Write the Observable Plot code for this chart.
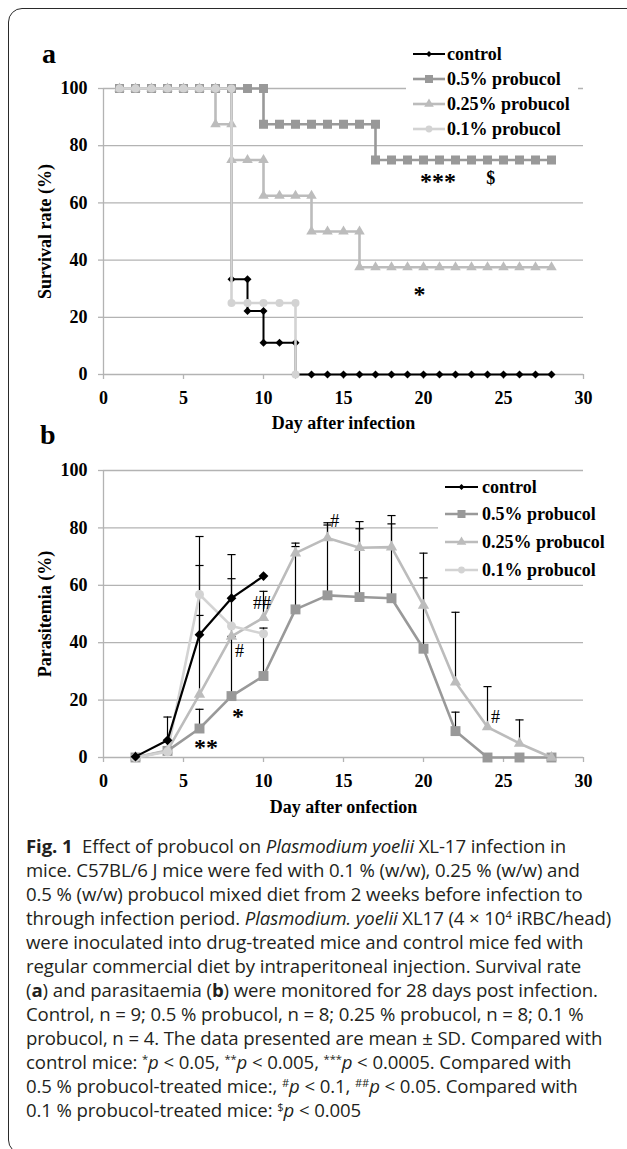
<!DOCTYPE html>
<html>
<head>
<meta charset="utf-8">
<script src="https://cdn.jsdelivr.net/npm/d3@7"></script>
<script src="https://cdn.jsdelivr.net/npm/@observablehq/plot@0.6"></script>
<style>
html, body { margin: 0; padding: 0; background: #fff; overflow: hidden; }
#fig { position: relative; width: 627px; height: 1149px; overflow: hidden; background: #fff; }
#frame { position: absolute; left: 8px; top: 8px; width: 640px; height: 1146px; border: 1.5px solid #2a2a2a; border-radius: 14px; box-sizing: border-box; }
.panel { position: absolute; left: 0; }
.plabel { position: absolute; font: bold 28px 'Liberation Serif', 'Times New Roman', serif; line-height: 28px; color: #000; }
.legend { position: absolute; background: #fff; font: bold 18px 'Liberation Serif', 'Times New Roman', serif; color: #000; }
.legend .row { position: absolute; left: 0; white-space: nowrap; }
.legend .row svg { position: absolute; left: 0; top: 0; }
.legend .row span { position: absolute; top: 0; line-height: 22px; }
.caption { position: absolute; left: 26px; top: 834px; font-family: 'Open Sans', 'Noto Sans', sans-serif; font-size: 18.6px; color: #231f20; letter-spacing: -0.1px; }
.caption div { white-space: nowrap; height: 24px; line-height: 24px; }
.caption sup { font-size: 0.6em; vertical-align: 0.55em; line-height: 0; }
</style>
</head>
<body>
<div id="fig">
  <div id="frame"></div>
  <div class="plabel" style="left:42px; top:40px;">a</div>
  <div class="plabel" style="left:40px; top:421px;">b</div>
  <div id="panelA" class="panel" style="top:0px;"></div>
  <div id="panelB" class="panel" style="top:440px;"></div>
  <div id="legendA" class="legend" style="left:406px; top:41px; width:172px; height:100px;"></div>
  <div id="legendB" class="legend" style="left:438px; top:474px; width:176px; height:108px;"></div>
  <div class="caption">
    <div><b>Fig. 1</b>&nbsp; Effect of probucol on <i>Plasmodium yoelii</i> XL-17 infection in</div>
    <div>mice. C57BL/6 J mice were fed with 0.1 % (w/w), 0.25 % (w/w) and</div>
    <div>0.5 % (w/w) probucol mixed diet from 2 weeks before infection to</div>
    <div>through infection period. <i>Plasmodium. yoelii</i> XL17 (4 × 10<sup>4</sup> iRBC/head)</div>
    <div>were inoculated into drug-treated mice and control mice fed with</div>
    <div>regular commercial diet by intraperitoneal injection. Survival rate</div>
    <div>(<b>a</b>) and parasitaemia (<b>b</b>) were monitored for 28 days post infection.</div>
    <div>Control, n = 9; 0.5 % probucol, n = 8; 0.25 % probucol, n = 8; 0.1 %</div>
    <div>probucol, n = 4. The data presented are mean ± SD. Compared with</div>
    <div>control mice: <sup>*</sup><i>p</i> &lt; 0.05, <sup>**</sup><i>p</i> &lt; 0.005, <sup>***</sup><i>p</i> &lt; 0.0005. Compared with</div>
    <div>0.5 % probucol-treated mice:, <sup>#</sup><i>p</i> &lt; 0.1, <sup>##</sup><i>p</i> &lt; 0.05. Compared with</div>
    <div>0.1 % probucol-treated mice: <sup>$</sup><i>p</i> &lt; 0.005</div>
  </div>
</div>
<script>
// ---------------- DATA ----------------
const seriesNames = ["control", "0.5% probucol", "0.25% probucol", "0.1% probucol"];
const xTicks = [0, 5, 10, 15, 20, 25, 30];
const yTicks = [0, 20, 40, 60, 80, 100];

// Panel a: survival rate (%) for days 1..N
const survControl = [100, 100, 100, 100, 100, 100, 100, 33.3, 22.2, 11.1, 11.1, 0, 0, 0, 0, 0, 0, 0, 0, 0, 0, 0, 0, 0, 0, 0, 0, 0];
const surv05 = [100, 100, 100, 100, 100, 100, 100, 100, 100, 87.5, 87.5, 87.5, 87.5, 87.5, 87.5, 87.5, 75, 75, 75, 75, 75, 75, 75, 75, 75, 75, 75, 75];
const surv025 = [100, 100, 100, 100, 100, 100, 87.5, 75, 75, 62.5, 62.5, 62.5, 50, 50, 50, 37.5, 37.5, 37.5, 37.5, 37.5, 37.5, 37.5, 37.5, 37.5, 37.5, 37.5, 37.5, 37.5];
const surv01 = [100, 100, 100, 100, 100, 100, 100, 25, 25, 25, 25, 0];

// Panel a annotations
const annotA = [
  {day: 20.9, value: 67.5, label: "***"},
  {day: 24.2, value: 68.5, label: "$"},
  {day: 19.75, value: 28, label: "*"}
];

// Panel b: parasitemia (%) mean and SD
const paraDays = [2, 4, 6, 8, 10, 12, 14, 16, 18, 20, 22, 24, 26, 28];
const paraControl = [0.3, 6.0, 42.8, 55.5, 63.2];
const para05 = [0, 2.3, 10.1, 21.4, 28.4, 51.6, 56.5, 55.9, 55.5, 37.9, 9.2, 0, 0, 0];
const para025 = [0, 2.5, 22.0, 42.2, 48.7, 71.2, 76.5, 73.1, 73.3, 53.0, 26.2, 10.6, 4.9, 0];
const para01 = [0, 2.0, 56.8, 45.8, 43.1];
const sdControl = [null, 8.1, 24.1, 15.2, null];
const sd05 = [null, null, 6.7, 20.8, 16.7, 21.9, 25.3, 26.3, 28.8, 24.7, 6.6, null, null, null];
const sd025 = [null, null, 27.5, 20.1, 9.2, 3.5, 4.5, 6.6, 8.1, 18.2, 24.4, 14.1, 8.2, null];
const sd01 = [null, null, 20.2, null, null];

// Panel b annotations
const annotBStars = [
  {day: 6.4, value: 3.5, label: "**"},
  {day: 8.4, value: 14.3, label: "*"}
];
const annotBHash = [
  {day: 8.5, value: 37.1, label: "#"},
  {day: 9.9, value: 53.7, label: "##"},
  {day: 14.45, value: 82.4, label: "#"},
  {day: 24.5, value: 14, label: "#"}
];

// ---------------- STYLE ----------------
const colors = {"control": "#000000", "0.5% probucol": "#999999", "0.25% probucol": "#bcbcbc", "0.1% probucol": "#d3d3d3"};
const symbols = {"control": "diamond2", "0.5% probucol": "square", "0.25% probucol": "triangle", "0.1% probucol": "circle"};
const gridColor = "#b3b3b3";
const serif = "'Liberation Serif', 'Times New Roman', serif";

// ---------------- HELPERS ----------------
function stepPoints(vals, series) {
  const pts = [];
  vals.forEach((v, i) => {
    const day = i + 1;
    if (i > 0 && v !== vals[i - 1]) pts.push({series, day, value: vals[i - 1]});
    pts.push({series, day, value: v});
  });
  return pts;
}
function paraPoints(vals, sds, series) {
  return vals.map((v, i) => ({series, day: paraDays[i], value: v, sd: sds[i]}));
}
const capSymbol = {
  draw(context, size) {
    const w = Math.sqrt(size) / 2;
    context.moveTo(-w, 0);
    context.lineTo(w, 0);
  }
};

function axesMarks() {
  return [
    Plot.gridY(yTicks, {stroke: gridColor, strokeOpacity: 1, strokeWidth: 1.3}),
    Plot.ruleX([0], {stroke: gridColor, strokeWidth: 1.3}),
    Plot.axisY({ticks: yTicks, tickSize: 5, tickPadding: 11, stroke: gridColor, strokeWidth: 1.3, label: null}),
    Plot.axisX({ticks: xTicks, tickSize: 5, tickPadding: 12, stroke: gridColor, strokeWidth: 1.3, label: null})
  ];
}
function yTitle(label) {
  return Plot.text([label], {text: d => d, frameAnchor: "left", dx: -58, rotate: -90, textAnchor: "middle", lineAnchor: "middle", fill: "#000"});
}
function xTitle(label, dy) {
  return Plot.text([label], {text: d => d, frameAnchor: "bottom", dy, textAnchor: "middle", lineAnchor: "middle", fill: "#000"});
}

// ---------------- PANEL A ----------------
const survSeries = {
  "control": stepPoints(survControl, "control"),
  "0.5% probucol": stepPoints(surv05, "0.5% probucol"),
  "0.25% probucol": stepPoints(surv025, "0.25% probucol"),
  "0.1% probucol": stepPoints(surv01, "0.1% probucol")
};
const rA = {"control": 3.6, "0.5% probucol": 5.1, "0.25% probucol": 3.9, "0.1% probucol": 4};
const lwA = {"control": 2, "0.5% probucol": 2.6, "0.25% probucol": 2.6, "0.1% probucol": 2.6};

const marksA = [...axesMarks()];
for (const s of seriesNames) {
  marksA.push(Plot.line(survSeries[s], {x: "day", y: "value", stroke: colors[s], strokeWidth: lwA[s], curve: "linear"}));
  marksA.push(Plot.dot(survSeries[s], {x: "day", y: "value", symbol: symbols[s], r: rA[s], fill: colors[s], stroke: "none"}));
}
marksA.push(Plot.text(annotA, {x: "day", y: "value", text: "label", fontSize: d => d.label === "$" ? 18 : 24, fontWeight: "bold", fill: "#000"}));
marksA.push(yTitle("Survival rate (%)"));
marksA.push(xTitle("Day after infection", 49));

const plotA = Plot.plot({
  width: 627, height: 440,
  marginLeft: 103, marginRight: 44, marginTop: 88, marginBottom: 66,
  style: {fontFamily: serif, fontSize: "18px", fontWeight: "bold", background: "transparent", color: "#000", overflow: "visible"},
  x: {domain: [0, 30]},
  y: {domain: [0, 100]},
  marks: marksA
});
document.getElementById("panelA").appendChild(plotA);

// ---------------- PANEL B ----------------
const paraSeries = {
  "control": paraPoints(paraControl, sdControl, "control"),
  "0.5% probucol": paraPoints(para05, sd05, "0.5% probucol"),
  "0.25% probucol": paraPoints(para025, sd025, "0.25% probucol"),
  "0.1% probucol": paraPoints(para01, sd01, "0.1% probucol")
};
const errData = seriesNames.flatMap(s => paraSeries[s]).filter(d => d.sd != null).map(d => ({...d, upper: d.value + d.sd}));
const rB = {"control": 4.4, "0.5% probucol": 5.6, "0.25% probucol": 4.2, "0.1% probucol": 4.5};
const lwB = {"control": 2.2, "0.5% probucol": 2.6, "0.25% probucol": 2.6, "0.1% probucol": 2.6};
const orderB = ["0.5% probucol", "0.25% probucol", "0.1% probucol", "control"];

const marksB = [...axesMarks()];
marksB.push(Plot.ruleX(errData, {x: "day", y1: "value", y2: "upper", stroke: "#000", strokeWidth: 1.2}));
marksB.push(Plot.dot(errData, {x: "day", y: "upper", symbol: capSymbol, r: 4.6, stroke: "#000", strokeWidth: 1.2, fill: "none"}));
for (const s of orderB) {
  marksB.push(Plot.line(paraSeries[s], {x: "day", y: "value", stroke: colors[s], strokeWidth: lwB[s], curve: "linear"}));
  marksB.push(Plot.dot(paraSeries[s], {x: "day", y: "value", symbol: symbols[s], r: rB[s], fill: colors[s], stroke: "none"}));
}
marksB.push(Plot.text(annotBStars, {x: "day", y: "value", text: "label", fontSize: 24, fontWeight: "bold", fill: "#000"}));
marksB.push(Plot.text(annotBHash, {x: "day", y: "value", text: "label", fontSize: 18, fontWeight: "normal", fill: "#000"}));
marksB.push(yTitle("Parasitemia (%)"));
marksB.push(xTitle("Day after onfection", 50));

const plotB = Plot.plot({
  width: 627, height: 390,
  marginLeft: 103, marginRight: 44, marginTop: 30, marginBottom: 73,
  style: {fontFamily: serif, fontSize: "18px", fontWeight: "bold", background: "transparent", color: "#000", overflow: "visible"},
  x: {domain: [0, 30]},
  y: {domain: [0, 100]},
  marks: marksB
});
document.getElementById("panelB").appendChild(plotB);

// ---------------- LEGENDS ----------------
const legSym = {
  "control": [d3.symbolDiamond2, 22],
  "0.5% probucol": [d3.symbolSquare, 64],
  "0.25% probucol": [d3.symbolTriangle, 40],
  "0.1% probucol": [d3.symbolCircle, 36]
};
function buildLegend(id, rowCenters, lineX, lineW, textX, lw) {
  const box = document.getElementById(id);
  seriesNames.forEach((s, i) => {
    const row = document.createElement("div");
    row.className = "row";
    row.style.top = (rowCenters[i] - 11) + "px";
    const svg = d3.create("svg").attr("width", lineW + 2).attr("height", 22)
      .style("left", lineX + "px");
    svg.append("line").attr("x1", 1).attr("x2", lineW + 1).attr("y1", 11).attr("y2", 11)
      .attr("stroke", colors[s]).attr("stroke-width", s === "control" ? 2 : lw);
    svg.append("path").attr("d", d3.symbol(legSym[s][0], legSym[s][1])())
      .attr("transform", `translate(${lineW / 2 + 1},11)`).attr("fill", colors[s]);
    row.appendChild(svg.node());
    const span = document.createElement("span");
    span.style.left = textX + "px";
    span.textContent = s;
    row.appendChild(span);
    box.appendChild(row);
  });
}
buildLegend("legendA", [13, 38, 63, 88], 6, 32, 41, 2.6);
buildLegend("legendB", [13, 40, 68, 96], 6, 33, 44, 2.6);
</script>
</body>
</html>
